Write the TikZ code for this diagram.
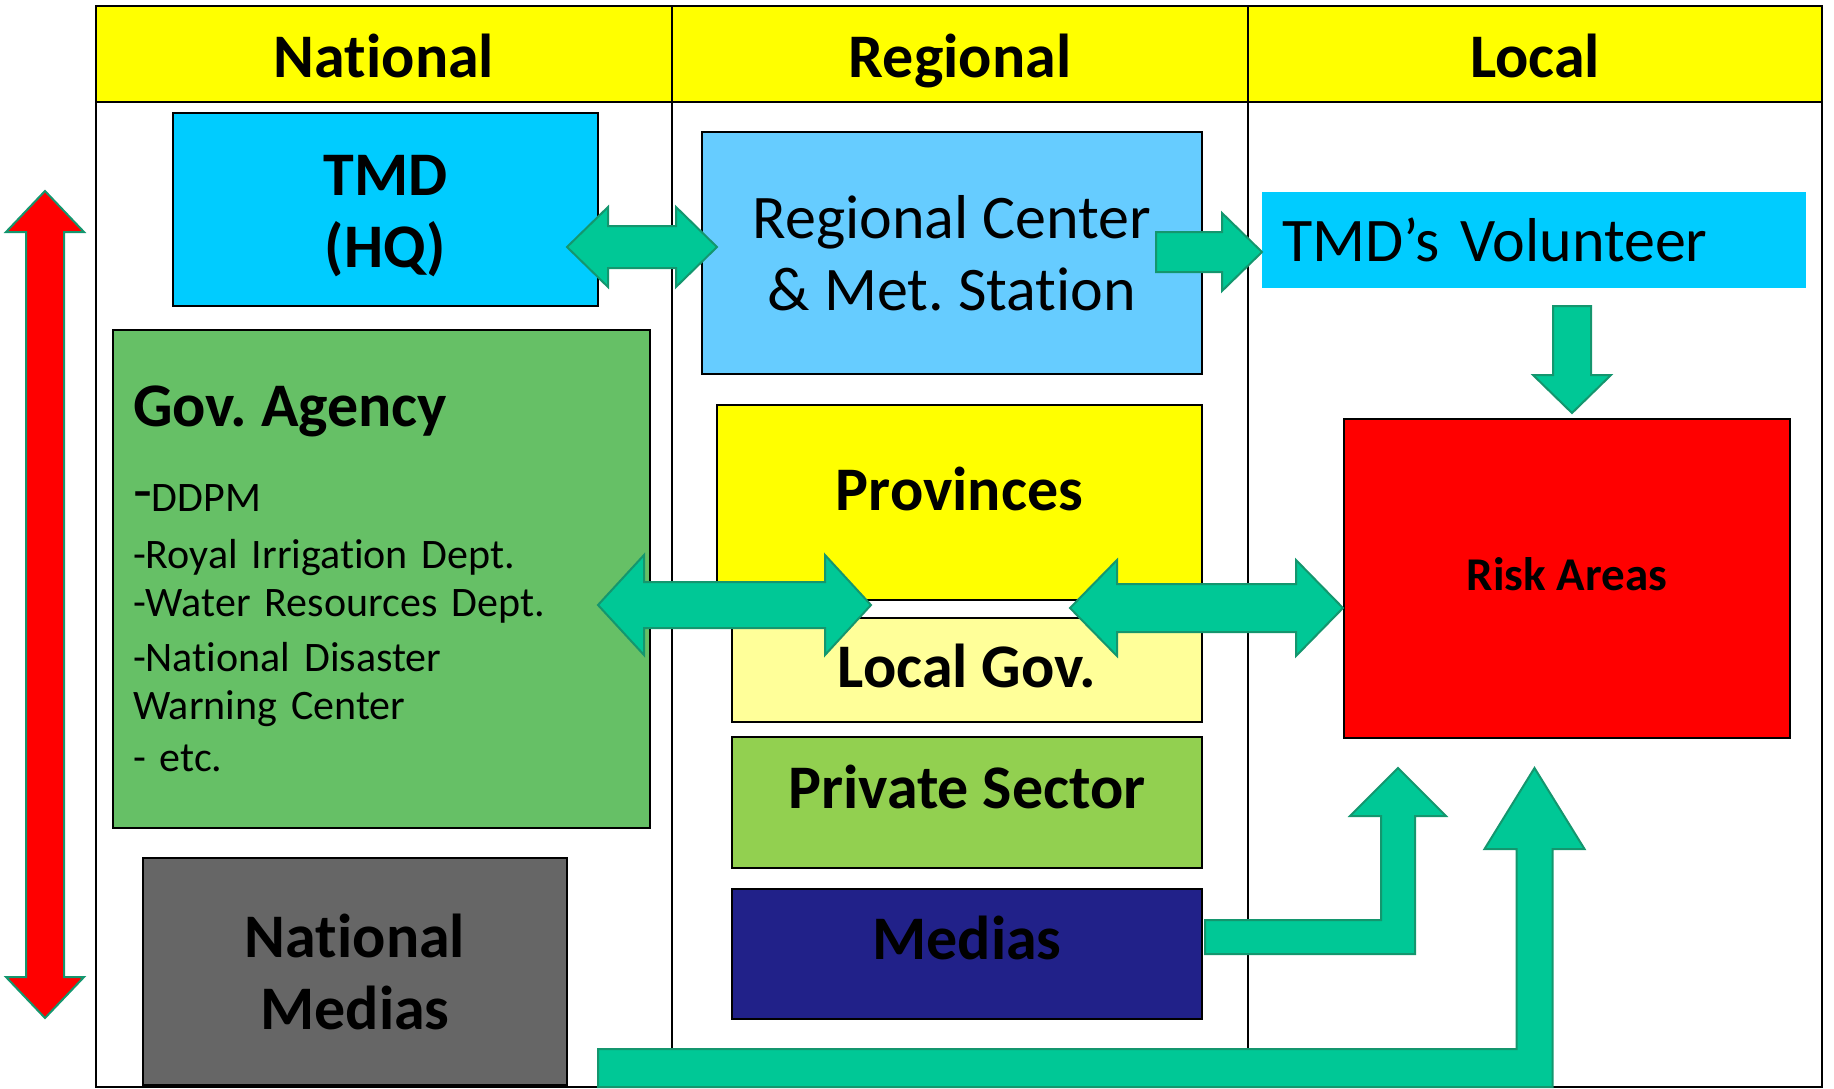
\documentclass[tikz,border=0pt]{standalone}
\usepackage{fontspec}
\setmainfont{Carlito}[Ligatures=NoCommon]
\usetikzlibrary{calc}
\frenchspacing

\definecolor{hdyellow}{RGB}{255,255,0}
\definecolor{tmdblue}{RGB}{0,204,255}
\definecolor{regblue}{RGB}{102,204,255}
\definecolor{govgreen}{RGB}{102,192,102}
\definecolor{lightyellow}{RGB}{255,255,153}
\definecolor{privgreen}{RGB}{146,208,80}
\definecolor{medianavy}{RGB}{33,33,137}
\definecolor{medgrey}{RGB}{102,102,102}
\definecolor{arrowfill}{RGB}{0,200,150}
\definecolor{arrowline}{RGB}{20,150,110}

% raise a label inside its box without changing the box size
\newcommand{\liftby}[2]{\raisebox{#1}[\height][\depth]{#2}}

% horizontal block arrow with two heads: left tip, right tip, shaft half, head half, head length
\newcommand{\twowayh}[5]{%
  \draw[fatarrow] (#1) -- ($(#1)+(#5,-#4)$) -- ($(#1)+(#5,-#3)$) -- ($(#2)+(-#5,-#3)$)
    -- ($(#2)+(-#5,-#4)$) -- (#2) -- ($(#2)+(-#5,#4)$) -- ($(#2)+(-#5,#3)$)
    -- ($(#1)+(#5,#3)$) -- ($(#1)+(#5,#4)$) -- cycle;}

\tikzset{
  box/.style={draw=black, line width=2pt, inner sep=0pt, align=center},
  colhead/.style={font=\fontsize{62}{72}\selectfont\bfseries, anchor=base},
  boldtext/.style={font=\fontsize{62}{72}\selectfont\bfseries},
  plaintext/.style={font=\fontsize{62}{72}\selectfont},
  fatarrow/.style={fill=arrowfill, draw=arrowline, line width=2pt},
  redarrow/.style={fill=red, draw=arrowline, line width=2pt},
}

\begin{document}
\begin{tikzpicture}[x=1pt,y=-1pt]
    \useasboundingbox (0,0) rectangle (1834,1088);
    % table frame
    \fill[hdyellow] (96,6) rectangle (1822,102);
    \draw[line width=2pt] (96,6) rectangle (1822,1087);
    \draw[line width=2pt] (96,102) -- (1822,102);
    \draw[line width=2pt] (672,6) -- (672,1087);
    \draw[line width=2pt] (1248,6) -- (1248,1087);
    \node[colhead] (hnat) at (384,77) {National};
    \node[colhead] (hreg) at (960,77) {Regional};
    \node[colhead] (hloc) at (1535,77) {Local};

    % national column
    \node[box, fill=tmdblue, minimum width=425, minimum height=193, boldtext] (tmd) at (385.5,209.5) {\liftby{-7pt}{TMD}\\\liftby{-7pt}{(HQ)}};
    \node[box, fill=govgreen, minimum height=498, text width=497, inner xsep=20pt, align=left,
          font=\fontsize{42}{48}\selectfont] (gov) at (381.5,579)
          {\vspace*{6pt}{\fontsize{62}{72}\selectfont\bfseries Gov. Agency}\\[31pt]
           {\fontsize{62}{72}\selectfont -}DDPM\\[9pt]
           -Royal Irrigation Dept.\\
           -Water Resources Dept.\\[7pt]
           -National Disaster\\
           Warning Center\\[4pt]
           - etc.};
    \node[box, fill=medgrey, minimum width=424, minimum height=227, boldtext] (natmed) at (355,971.5) {National\\Medias};

    % regional column
    \node[box, fill=regblue, minimum width=500, minimum height=242, plaintext] (regc) at (952,253) {Regional Center\\\& Met. Station};
    \node[box, fill=hdyellow, minimum width=485, minimum height=195, boldtext] (prov) at (959.5,502.5) {\liftby{14pt}{Provinces}};
    \node[box, fill=lightyellow, minimum width=470, minimum height=104, boldtext] (locgov) at (967,670) {\liftby{4pt}{Local Gov.}};
    \node[box, fill=privgreen, minimum width=470, minimum height=131, boldtext] (priv) at (967,802.5) {\liftby{16pt}{Private Sector}};
    \node[box, fill=medianavy, minimum width=470, minimum height=130, boldtext] (med) at (967,954) {\liftby{16pt}{Medias}};

    % local column
    \node[fill=tmdblue, minimum height=96, text width=504, inner xsep=20pt, inner ysep=0pt, align=left, plaintext] (vol) at (1534,240) {TMD’s Volunteer};
    \node[box, fill=red, minimum width=446, minimum height=319, font=\fontsize{47}{56}\selectfont\bfseries] (risk) at (1567,578.5) {\liftby{4pt}{Risk Areas}};

    % arrow ends
    \coordinate (upTip) at (45,191);
    \coordinate (downTip) at (45,1018);
    \coordinate (hqTip) at (567,247);
    \coordinate (rcTip) at (717,247);
    \coordinate (govTip) at (598,605);
    \coordinate (provTip) at (871,605);
    \coordinate (provTipB) at (1070,608);
    \coordinate (riskTip) at (1343,608);
    \coordinate (rcTail) at (1156,252);
    \coordinate (volTip) at (1262,252);
    \coordinate (volTail) at (1572,306);
    \coordinate (riskTop) at (1572,413);
    \coordinate (medTail) at (1205,937);
    \coordinate (medTip) at (1398,768);
    \coordinate (natTail) at (598,1068);
    \coordinate (natTip) at (1534.5,768);

    % red scale arrow
    \draw[redarrow] (upTip) -- ($(upTip)+(39,41)$) -- ($(upTip)+(19,41)$) -- ($(downTip)+(19,-41)$)
        -- ($(downTip)+(39,-41)$) -- (downTip) -- ($(downTip)+(-39,-41)$) -- ($(downTip)+(-19,-41)$)
        -- ($(upTip)+(-19,41)$) -- ($(upTip)+(-39,41)$) -- cycle;

    % two way arrows
    \twowayh{hqTip}{rcTip}{21}{40}{41}
    \twowayh{govTip}{provTip}{23}{50}{46}
    \twowayh{provTipB}{riskTip}{24}{48}{47}

    % one way arrows
    \draw[fatarrow] ($(rcTail)+(0,-20)$) -- ($(volTip)+(-40,-20)$) -- ($(volTip)+(-40,-39)$) -- (volTip)
        -- ($(volTip)+(-40,39)$) -- ($(volTip)+(-40,20)$) -- ($(rcTail)+(0,20)$) -- cycle;
    \draw[fatarrow] ($(volTail)+(-19,0)$) -- ($(riskTop)+(-19,-38)$) -- ($(riskTop)+(-39,-38)$) -- (riskTop)
        -- ($(riskTop)+(39,-38)$) -- ($(riskTop)+(19,-38)$) -- ($(volTail)+(19,0)$) -- cycle;
    \draw[fatarrow] ($(medTail)+(0,-17)$) -- ($(medTip|-medTail)+(-17,-17)$) -- ($(medTip)+(-17,48)$)
        -- ($(medTip)+(-48,48)$) -- (medTip) -- ($(medTip)+(48,48)$) -- ($(medTip)+(17,48)$)
        -- ($(medTip|-medTail)+(17,17)$) -- ($(medTail)+(0,17)$) -- cycle;
    \draw[fatarrow] ($(natTail)+(0,-19)$) -- ($(natTip|-natTail)+(-18,-19)$) -- ($(natTip)+(-18,81)$)
        -- ($(natTip)+(-50,81)$) -- (natTip) -- ($(natTip)+(50,81)$) -- ($(natTip)+(18,81)$)
        -- ($(natTip|-natTail)+(18,19)$) -- ($(natTail)+(0,19)$) -- cycle;
\end{tikzpicture}
\end{document}
